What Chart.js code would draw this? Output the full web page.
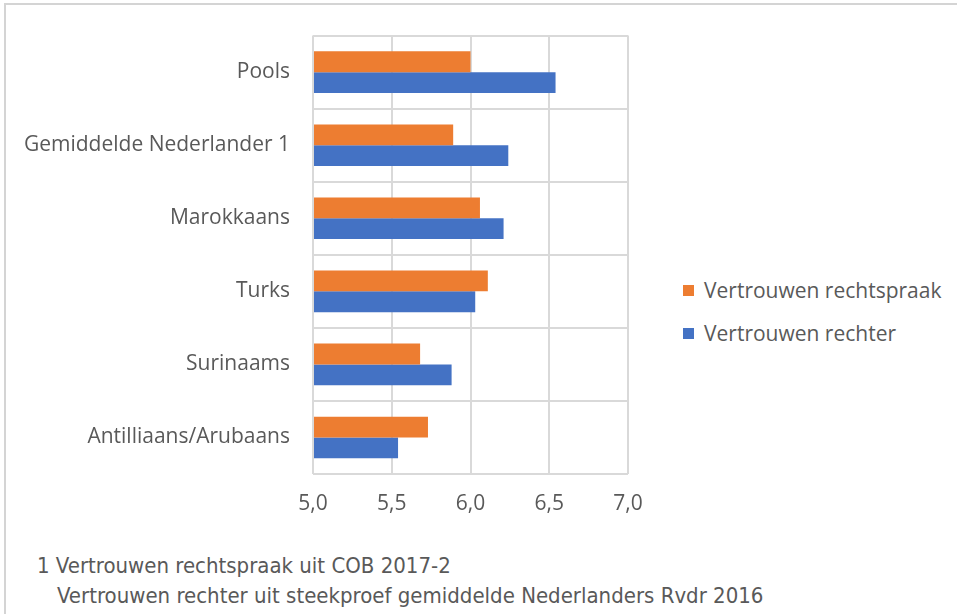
<!DOCTYPE html>
<html>
<head>
<meta charset="utf-8">
<script src="https://cdn.jsdelivr.net/npm/chart.js@4/dist/chart.umd.min.js"></script>
<style>
  html, body { margin: 0; padding: 0; background: #fff; }
  body { width: 957px; height: 614px; position: relative; overflow: hidden; }
  #frame { position: absolute; left: 4px; top: 3px; width: 970px; height: 640px; border: 2px solid #d4d4d4; box-sizing: border-box; }
  #wrap { position: absolute; left: 0; top: 0; width: 680px; height: 540px; }
  .legend { position: absolute; left: 683px; font-family: "Open Sans", sans-serif; font-size: 21px; color: #595959; white-space: nowrap; }
  .legend span { display: inline-block; width: 11px; height: 11px; margin-right: 10px; vertical-align: 2px; }
  .note { position: absolute; font-family: "Liberation Sans Narrow", "DejaVu Sans Condensed", sans-serif; font-size: 22px; color: #595959; white-space: nowrap; }
</style>
</head>
<body>
<div id="frame"></div>
<div id="wrap"><canvas id="chart"></canvas></div>
<div class="legend" style="top:276px"><span style="background:#ED7D31"></span>Vertrouwen rechtspraak</div>
<div class="legend" style="top:319px"><span style="background:#4472C4"></span>Vertrouwen rechter</div>
<div class="note" style="left:37px; top:553px">1 Vertrouwen rechtspraak uit COB 2017-2</div>
<div class="note" style="left:57px; top:583px">Vertrouwen rechter uit steekproef gemiddelde Nederlanders Rvdr 2016</div>
<script>
const categories = ["Pools", "Gemiddelde Nederlander 1", "Marokkaans", "Turks", "Surinaams", "Antilliaans/Arubaans"];
const rechtspraak = [6.00, 5.89, 6.06, 6.11, 5.68, 5.73];
const rechter = [6.54, 6.24, 6.21, 6.03, 5.88, 5.54];
const xTickLabels = ["5,0", "5,5", "6,0", "6,5", "7,0"];

const ctx = document.getElementById("chart").getContext("2d");
const chart = new Chart(ctx, {
  type: "bar",
  data: {
    labels: categories,
    datasets: [
      { label: "Vertrouwen rechtspraak", data: rechtspraak, backgroundColor: "#ED7D31" },
      { label: "Vertrouwen rechter", data: rechter, backgroundColor: "#4472C4" }
    ]
  },
  options: {
    indexAxis: "y",
    responsive: true,
    maintainAspectRatio: false,
    animation: false,
    layout: { padding: { top: 33, right: 52, left: 0, bottom: 0 } },
    datasets: { bar: { categoryPercentage: 0.57, barPercentage: 1.0, base: 5 } },
    plugins: { legend: { display: false }, tooltip: { enabled: false } },
    scales: {
      x: {
        min: 5, max: 7,
        ticks: {
          stepSize: 0.5,
          padding: 17,
          color: "#595959",
          font: { family: "Open Sans", size: 21 },
          callback: (v, i) => xTickLabels[i]
        },
        grid: { color: "#d9d9d9", lineWidth: 2, drawTicks: false },
        border: { display: false },
        afterFit: s => { s.height = 66; }
      },
      y: {
        ticks: {
          padding: 23,
          color: "#595959",
          font: { family: "Open Sans", size: 21 }
        },
        grid: { color: "#d9d9d9", lineWidth: 2, drawTicks: false, offset: true },
        border: { display: false },
        afterFit: s => { s.width = 313; }
      }
    }
  }
});
</script>
</body>
</html>
